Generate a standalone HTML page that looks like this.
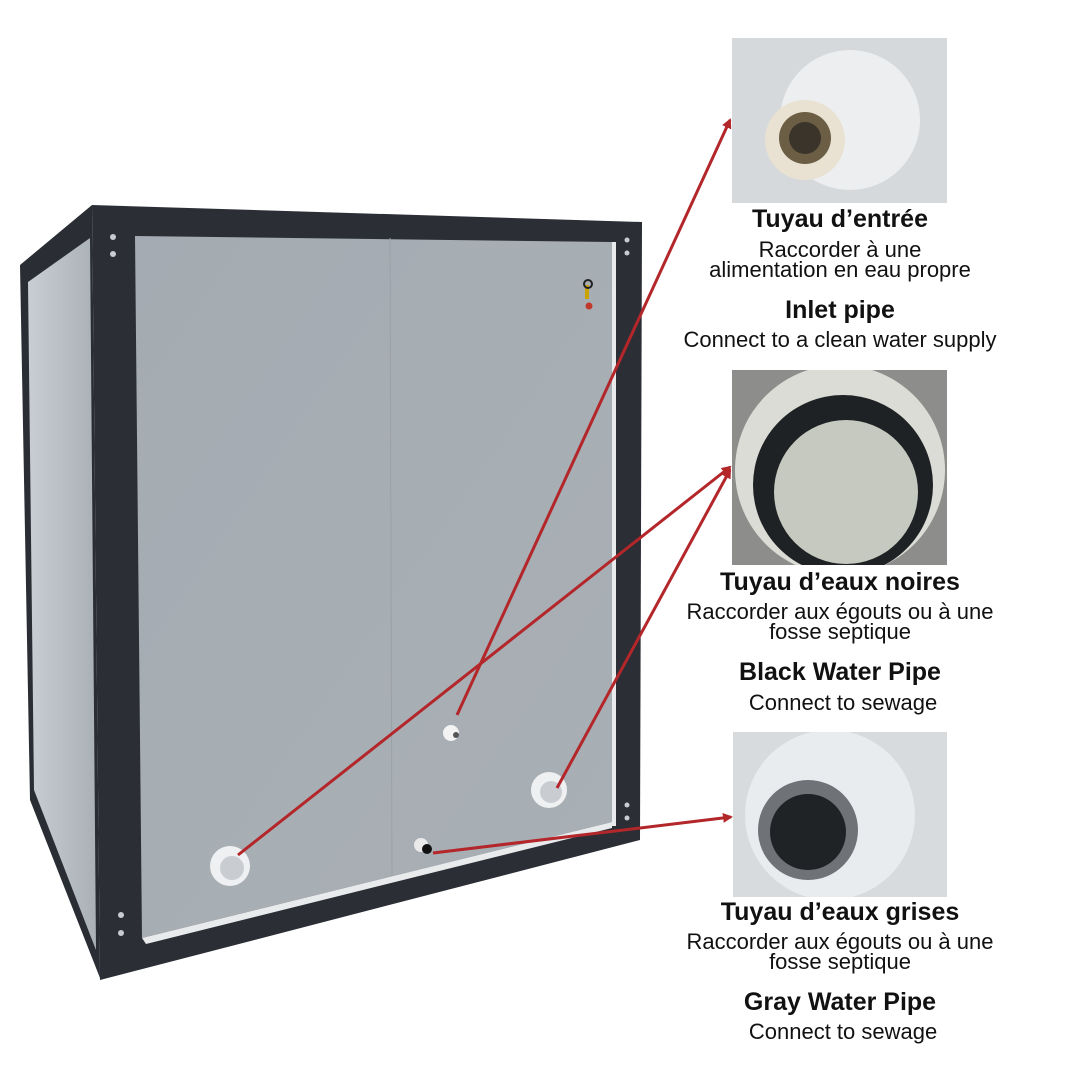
<!DOCTYPE html>
<html><head><meta charset="utf-8"><style>
html,body{margin:0;padding:0;background:#fff;}
body{width:1080px;height:1080px;position:relative;overflow:hidden;font-family:"Liberation Sans",sans-serif;}
.t{position:absolute;left:630px;width:420px;text-align:center;color:#111;white-space:nowrap;}
.h{font-weight:bold;font-size:25px;line-height:28px;}
.p{font-size:22px;line-height:20px;}
</style></head><body>
<svg width="1080" height="1080" style="position:absolute;left:0;top:0">
<defs>
<linearGradient id="side" x1="0" x2="1"><stop offset="0" stop-color="#c9ced3"/><stop offset="1" stop-color="#a9b0b6"/></linearGradient>
<linearGradient id="front" x1="0" x2="1" y1="0" y2="1"><stop offset="0" stop-color="#a4abb2"/><stop offset="1" stop-color="#a9b0b5"/></linearGradient>
<marker id="ah" markerWidth="10" markerHeight="10" refX="8" refY="5" orient="auto" markerUnits="userSpaceOnUse"><path d="M0,0 L10,5 L0,10 Z" fill="#b3262a"/></marker>
<clipPath id="c1"><rect x="732" y="38" width="215" height="165"/></clipPath>
<clipPath id="c2"><rect x="732" y="370" width="215" height="195"/></clipPath>
<clipPath id="c3"><rect x="733" y="732" width="214" height="165"/></clipPath>
</defs>
<polygon points="20,265 92,205 100,978 30,800" fill="#2a2d33"/>
<polygon points="28,282 90,238 96,950 34,790" fill="url(#side)"/>
<polygon points="92,205 642,222 640,840 100,980" fill="#2b2e35"/>
<polygon points="135,236 612,242 612,822 142,938" fill="url(#front)"/>
<polygon points="612,242 616,242 616,826 612,826" fill="#e8eaec"/>
<line x1="390" y1="238" x2="392" y2="878" stroke="#9aa1a7" stroke-width="1"/>
<polygon points="142,938 612,822 612,828 146,944" fill="#e8eaec"/>
<g fill="#c8ccd0"><circle cx="113" cy="237" r="3"/><circle cx="113" cy="254" r="3"/><circle cx="627" cy="240" r="2.5"/><circle cx="627" cy="253" r="2.5"/><circle cx="121" cy="915" r="3"/><circle cx="121" cy="933" r="3"/><circle cx="627" cy="805" r="2.5"/><circle cx="627" cy="818" r="2.5"/></g>
<rect x="585" y="285" width="4" height="14" fill="#c9a400"/><circle cx="588" cy="284" r="4" fill="none" stroke="#222" stroke-width="2"/>
<circle cx="589" cy="306" r="3.5" fill="#c0392b"/>
<circle cx="230" cy="866" r="20" fill="#eef0f2"/><circle cx="232" cy="868" r="12" fill="#c9ccd0"/>
<circle cx="549" cy="790" r="18" fill="#eef0f2"/><circle cx="551" cy="792" r="11" fill="#c9ccd0"/>
<circle cx="451" cy="733" r="8" fill="#f3f3f3"/><circle cx="456" cy="735" r="3" fill="#555"/>
<circle cx="421" cy="845" r="7" fill="#eaeaea"/><circle cx="427" cy="849" r="5" fill="#111"/>
<g stroke="#b3262a" stroke-width="3" fill="none">
<line x1="457" y1="715" x2="730" y2="120" marker-end="url(#ah)"/>
<line x1="238" y1="855" x2="730" y2="467" marker-end="url(#ah)"/>
<line x1="557" y1="788" x2="730" y2="470" marker-end="url(#ah)"/>
<line x1="433" y1="853" x2="731" y2="817" marker-end="url(#ah)"/>
</g>
<g clip-path="url(#c1)">
<rect x="732" y="38" width="215" height="165" fill="#d6d9dc"/>
<ellipse cx="850" cy="120" rx="70" ry="70" fill="#eceeef"/>
<circle cx="805" cy="140" r="40" fill="#e9e2d2"/><circle cx="805" cy="138" r="26" fill="#6b5e45"/><circle cx="805" cy="138" r="16" fill="#3a342a"/>
</g>
<g clip-path="url(#c2)">
<rect x="732" y="370" width="215" height="195" fill="#8d8d8b"/>
<circle cx="840" cy="470" r="105" fill="#dcdcd6"/><circle cx="843" cy="485" r="90" fill="#1f2224"/><circle cx="846" cy="492" r="72" fill="#c6c9c0"/>
</g>
<g clip-path="url(#c3)">
<rect x="733" y="732" width="214" height="165" fill="#d8dbdd"/>
<ellipse cx="830" cy="815" rx="85" ry="85" fill="#e9ecee"/>
<circle cx="808" cy="830" r="50" fill="#6f7377"/><circle cx="808" cy="832" r="38" fill="#202326"/>
</g>
</svg>
<div class="t h" style="top:205px">Tuyau d’entrée</div>
<div class="t p" style="top:240px">Raccorder à une<br>alimentation en eau propre</div>
<div class="t h" style="top:296px">Inlet pipe</div>
<div class="t p" style="top:330px">Connect to a clean water supply</div>
<div class="t h" style="top:568px">Tuyau d’eaux noires</div>
<div class="t p" style="top:602px">Raccorder aux égouts ou à une<br>fosse septique</div>
<div class="t h" style="top:658px">Black Water Pipe</div>
<div class="t p" style="top:693px">&nbsp;Connect to sewage</div>
<div class="t h" style="top:898px">Tuyau d’eaux grises</div>
<div class="t p" style="top:932px">Raccorder aux égouts ou à une<br>fosse septique</div>
<div class="t h" style="top:988px">Gray Water Pipe</div>
<div class="t p" style="top:1022px">&nbsp;Connect to sewage</div>
</body></html>
